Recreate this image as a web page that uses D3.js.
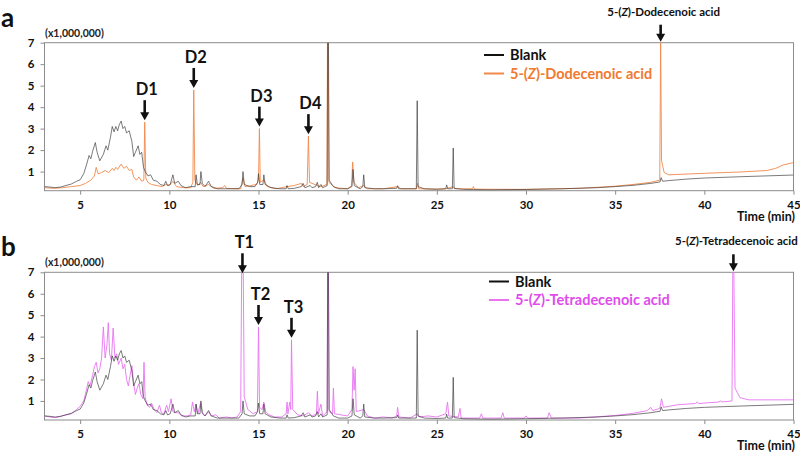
<!DOCTYPE html>
<html><head><meta charset="utf-8">
<script src="https://cdn.jsdelivr.net/npm/d3@7"></script>
<style>
body{margin:0;background:#fff;}
text{font-family:Lato,"Open Sans",sans-serif;font-weight:bold;}
</style></head>
<body><svg id="c" width="800" height="456"></svg>
<script>
// ---- data (time in min, intensity in x1,000,000) ----
const xTicks = [5,10,15,20,25,30,35,40,45];
const yTicks = [1,2,3,4,5,6,7];

const blank = [
[3.0,0.3],[3.3,0.28],[3.6,0.25],[3.9,0.28],[4.2,0.35],[4.5,0.42],[4.8,0.55],[5.0,0.62],[5.2,0.9],[5.35,1.3],[5.5,1.75],[5.6,1.6],[5.7,1.95],[5.85,2.35],[5.95,1.9],[6.1,1.5],[6.3,1.8],[6.45,2.2],[6.55,2.0],[6.7,2.6],[6.8,3.1],[6.9,2.85],[7.0,3.1],[7.1,2.9],[7.2,3.2],[7.3,3.35],[7.4,3.0],[7.5,3.1],[7.6,2.8],[7.75,2.9],[7.9,2.4],[8.0,1.7],[8.1,1.9],[8.25,2.2],[8.35,1.8],[8.45,1.9],[8.55,1.2],[8.65,1.0],[8.8,0.8],[8.95,0.85],[9.1,0.6],[9.3,0.55],[9.5,0.4],[9.7,0.35],[9.8,0.55],[9.9,0.35],[10.05,0.4],[10.2,0.85],[10.3,0.45],[10.5,0.55],[10.65,0.35],[10.9,0.25],[11.2,0.3],[11.45,0.3],[11.5,0.85],[11.57,0.4],[11.72,0.4],[11.77,1.0],[11.85,0.45],[12.0,0.3],[12.2,0.55],[12.35,0.3],[12.7,0.2],[13.0,0.2],[13.5,0.2],[13.9,0.2],[14.08,0.4],[14.13,1.0],[14.2,0.4],[14.5,0.3],[14.8,0.3],[14.95,0.5],[15.0,0.9],[15.07,0.4],[15.25,0.4],[15.3,0.85],[15.37,0.4],[15.7,0.25],[16.2,0.2],[16.55,0.2],[16.6,0.35],[16.67,0.2],[17.0,0.22],[17.4,0.3],[17.5,0.45],[17.6,0.25],[17.9,0.35],[18.0,0.25],[18.2,0.3],[18.3,0.5],[18.37,0.25],[18.5,0.4],[18.6,0.25],[18.85,0.35],[18.88,7.5],[18.92,7.5],[18.96,0.6],[19.2,0.3],[19.5,0.2],[20.0,0.2],[20.24,0.3],[20.3,1.1],[20.37,0.35],[20.7,0.2],[20.85,0.3],[20.9,0.85],[20.96,0.25],[21.5,0.2],[22.0,0.2],[22.75,0.22],[22.8,0.34],[22.86,0.2],[23.85,0.2],[23.9,4.3],[23.95,0.3],[24.3,0.2],[25.0,0.18],[25.5,0.2],[25.55,0.38],[25.61,0.2],[25.87,0.2],[25.92,2.1],[25.97,0.22],[26.5,0.17],[28.0,0.15],[30.0,0.17],[32.0,0.2],[34.0,0.25],[35.0,0.3],[36.0,0.36],[37.0,0.45],[37.52,0.52],[37.58,0.72],[37.66,0.55],[38.0,0.58],[39.0,0.65],[40.0,0.7],[42.0,0.76],[45.0,0.84]
];

const dodecenoic = [
[3.0,0.25],[3.5,0.22],[4.0,0.25],[4.5,0.3],[5.0,0.35],[5.3,0.45],[5.6,0.6],[5.8,0.8],[5.9,1.2],[6.0,0.9],[6.2,0.95],[6.4,1.05],[6.6,0.95],[6.8,1.15],[6.9,1.05],[7.0,1.2],[7.1,1.1],[7.3,1.35],[7.45,1.15],[7.6,1.25],[7.75,1.05],[7.9,1.1],[8.0,0.75],[8.15,0.6],[8.3,0.75],[8.45,0.55],[8.57,0.6],[8.62,3.3],[8.68,0.7],[8.8,0.5],[9.0,0.4],[9.3,0.35],[9.6,0.3],[9.8,0.4],[10.0,0.35],[10.2,0.55],[10.4,0.3],[10.8,0.25],[11.2,0.25],[11.32,0.5],[11.37,4.8],[11.43,0.6],[11.6,0.35],[11.75,0.5],[11.9,0.3],[12.2,0.4],[12.5,0.22],[13.0,0.25],[13.1,0.35],[13.2,0.22],[14.0,0.2],[14.13,0.7],[14.25,0.3],[14.9,0.4],[15.0,0.6],[15.05,3.0],[15.1,0.5],[15.3,0.6],[15.5,0.3],[16.0,0.2],[16.6,0.3],[17.0,0.35],[17.4,0.45],[17.5,0.3],[17.73,0.4],[17.8,2.65],[17.86,0.5],[18.3,0.35],[18.5,0.3],[18.84,0.4],[18.87,7.5],[18.91,7.5],[18.95,0.5],[19.3,0.25],[20.0,0.2],[20.22,0.35],[20.28,1.45],[20.35,0.5],[20.6,0.25],[20.9,0.35],[21.1,0.2],[22.0,0.2],[22.8,0.3],[23.0,0.2],[23.86,0.2],[23.92,0.45],[23.98,0.2],[25.0,0.18],[25.5,0.2],[25.92,0.3],[26.0,0.2],[27.0,0.2],[27.05,0.3],[27.12,0.18],[30.0,0.17],[33.0,0.22],[35.0,0.32],[36.0,0.4],[37.0,0.5],[37.5,0.6],[37.55,7.2],[37.6,1.5],[37.75,0.95],[38.0,0.85],[40.0,0.92],[42.0,0.98],[43.5,1.05],[44.0,1.15],[44.4,1.3],[45.0,1.42]
];

const tetradecenoic = [
[3.0,0.3],[3.3,0.25],[3.6,0.22],[3.9,0.28],[4.2,0.35],[4.5,0.4],[4.8,0.6],[5.0,0.75],[5.2,1.0],[5.35,1.5],[5.45,1.9],[5.55,1.7],[5.7,2.2],[5.8,2.6],[5.9,2.8],[6.0,2.3],[6.1,2.5],[6.2,3.0],[6.3,4.45],[6.4,3.0],[6.5,3.6],[6.58,4.65],[6.65,3.2],[6.75,2.9],[6.85,4.4],[6.95,3.0],[7.05,3.2],[7.15,2.7],[7.3,3.0],[7.4,2.5],[7.5,2.7],[7.6,2.0],[7.7,1.7],[7.8,2.2],[7.9,2.65],[8.0,1.8],[8.1,1.3],[8.2,1.6],[8.3,1.8],[8.4,1.3],[8.52,1.1],[8.58,2.8],[8.64,1.2],[8.75,0.8],[8.9,0.7],[9.0,0.9],[9.15,0.6],[9.3,0.45],[9.45,0.8],[9.55,0.45],[9.7,0.4],[9.85,0.8],[9.95,0.5],[10.1,1.1],[10.2,0.5],[10.35,0.45],[10.5,0.45],[10.7,0.3],[11.0,0.3],[11.2,0.35],[11.3,0.95],[11.4,0.5],[11.5,0.85],[11.6,0.4],[11.75,0.9],[11.85,0.4],[12.0,0.3],[12.2,0.5],[12.35,0.3],[12.6,0.35],[12.8,0.2],[13.2,0.25],[13.5,0.2],[13.8,0.25],[14.0,0.5],[14.06,7.5],[14.14,7.5],[14.2,1.2],[14.4,0.6],[14.7,0.4],[14.94,0.5],[15.0,4.45],[15.06,0.7],[15.2,0.6],[15.3,0.95],[15.4,0.5],[15.6,0.35],[15.9,0.25],[16.3,0.25],[16.55,0.4],[16.6,0.95],[16.65,0.4],[16.75,0.95],[16.81,0.6],[16.85,3.85],[16.92,0.6],[17.2,0.35],[17.5,0.3],[17.8,0.45],[18.0,0.3],[18.25,0.4],[18.3,1.45],[18.36,0.4],[18.5,0.85],[18.6,0.3],[18.85,0.5],[18.88,7.5],[18.92,7.5],[18.96,0.5],[19.15,0.4],[19.2,1.6],[19.26,0.4],[19.6,0.35],[20.0,0.3],[20.24,0.6],[20.3,2.6],[20.36,1.5],[20.42,2.5],[20.48,0.5],[20.9,0.6],[21.1,0.3],[21.5,0.2],[22.0,0.25],[22.5,0.2],[22.75,0.3],[22.8,0.7],[22.87,0.25],[23.5,0.2],[23.9,0.4],[24.0,0.25],[24.5,0.3],[25.0,0.25],[25.5,0.4],[25.6,0.95],[25.67,0.3],[26.2,0.25],[26.3,0.65],[26.36,0.2],[27.4,0.2],[27.5,0.4],[27.58,0.2],[28.6,0.2],[28.7,0.45],[28.78,0.2],[29.9,0.2],[30.0,0.3],[30.1,0.2],[31.2,0.2],[31.3,0.45],[31.42,0.2],[33.0,0.2],[35.0,0.32],[36.0,0.42],[36.8,0.55],[37.0,0.7],[37.1,0.55],[37.5,0.65],[37.6,1.1],[37.7,0.7],[38.5,0.82],[39.5,0.88],[39.6,0.95],[39.7,0.88],[40.8,0.95],[40.9,1.0],[41.0,0.95],[41.55,1.0],[41.6,7.5],[41.65,7.5],[41.72,1.6],[42.0,1.15],[42.5,1.05],[45.0,1.05]
];

const panelLetters = ["a","b"];
const sampleNames = ["5-(Z)-Dodecenoic acid","5-(Z)-Tetradecenoic acid"];
const peakLabelsA = [["D1",8.62,3.3],["D2",11.37,4.8],["D3",15.05,3.0],["D4",17.8,2.65]];
const peakLabelsB = [["T1",14.1,7.0],["T2",15.0,4.45],["T3",16.85,3.85]];

// ---- drawing ----
const svg = d3.select("#c");
const sampleColors = ["#F2894A","#E874F2"];
const sampleTextColors = ["#EF7A30","#E04CEC"];

function panel(idx, top, bottom, sample, peaks, ann){
  const x = d3.scaleLinear().domain([3,45]).range([44.5,793.5]);
  const y = d3.scaleLinear().domain([0.11,7]).range([bottom, top]);
  const g = svg.append("g");
  const cid = "clip"+idx;
  svg.append("clipPath").attr("id",cid).append("rect")
    .attr("x",44.5).attr("y",top).attr("width",749).attr("height",bottom-top);

  // frame
  g.append("rect").attr("x",44.5).attr("y",top).attr("width",749).attr("height",bottom-top)
    .attr("fill","none").attr("stroke","#8c8c8c").attr("stroke-width",1);

  const line = d3.line().x(d=>x(d[0])).y(d=>y(d[1]));
  const lg = g.append("g").attr("clip-path",`url(#${cid})`);
  lg.append("path").datum(sample).attr("d",line).attr("fill","none")
    .attr("stroke",sampleColors[idx]).attr("stroke-width",1).attr("stroke-opacity",0.9);
  lg.append("path").datum(blank).attr("d",line).attr("fill","none")
    .attr("stroke","#3a3a3a").attr("stroke-width",0.9).attr("stroke-opacity",0.75);

  // axes
  const xa = g.append("g").attr("transform",`translate(0,${bottom})`)
    .call(d3.axisBottom(x).tickValues(xTicks).tickFormat(d3.format("d")).tickSize(4).tickPadding(6));
  const ya = g.append("g").attr("transform",`translate(44.5,0)`)
    .call(d3.axisLeft(y).tickValues(yTicks).tickFormat(d3.format("d")).tickSize(4).tickPadding(6));
  [xa,ya].forEach(a=>{
    a.select(".domain").remove();
    a.selectAll(".tick line").attr("stroke","#8c8c8c");
    a.selectAll(".tick text").attr("font-size",11.5).attr("fill","#111")
      .attr("font-family","Lato,sans-serif").attr("font-weight","bold");
  });

  g.append("text").attr("x",795).attr("y",bottom+30).attr("text-anchor","end")
    .attr("font-size",12.5).attr("fill","#111").text("Time (min)");
  g.append("text").attr("x",45).attr("y",top-6).attr("font-size",10.5).attr("fill","#222").text("(x1,000,000)");
  g.append("text").attr("x",1).attr("y",top-16).attr("font-size",26).attr("fill","#111").text(panelLetters[idx]);

  // legend
  const lx = ann.legX, ly = ann.legY;
  const names = ["Blank", sampleNames[idx]];
  const cols = ["#111", sampleTextColors[idx]];
  const lcols = ["#111", sampleColors[idx]];
  names.forEach((n,i)=>{
    const yy = ly + i*18.5;
    g.append("line").attr("x1",lx).attr("x2",lx+20).attr("y1",yy).attr("y2",yy)
      .attr("stroke",lcols[i]).attr("stroke-width",2);
    const t = g.append("text").attr("x",lx+26).attr("y",yy+5).attr("font-size",14.5).attr("fill",cols[i]);
    richName(t,n);
  });

  // arrows
  function arrow(xp, y1, y2){
    g.append("line").attr("x1",xp).attr("x2",xp).attr("y1",y1).attr("y2",y2-6)
      .attr("stroke","#111").attr("stroke-width",2.6);
    g.append("path").attr("d",`M${xp-4.5},${y2-8}L${xp+4.5},${y2-8}L${xp},${y2}Z`).attr("fill","#111");
  }
  peaks.forEach(p=>{
    const xp = x(p[1]);
    const tipY = Math.max(y(p[2]) - 2, top+1);
    arrow(xp, tipY-20, tipY);
    g.append("text").attr("x",xp+2).attr("y",tipY-25).attr("text-anchor","middle")
      .attr("font-size",16.5).attr("fill","#111").text(p[0]);
  });
  // main compound annotation
  const ax = x(ann.t);
  arrow(ax, top-18, top-1);
  const at = g.append("text").attr("x",ax+3).attr("y",top-27).attr("text-anchor","middle")
    .attr("font-size",11.5).attr("fill","#111");
  richName(at, sampleNames[idx]);
}

function richName(t, n){
  const m = n.match(/^(.*\()(Z)(\).*)$/);
  if(!m){ t.text(n); return; }
  t.append("tspan").text(m[1]);
  t.append("tspan").attr("font-style","italic").text(m[2]);
  t.append("tspan").text(m[3]);
}

panel(0, 42.7, 190.7, dodecenoic, peakLabelsA, {t:37.55, legX:484, legY:55});
panel(1, 272.3, 420, tetradecenoic, peakLabelsB, {t:41.63, legX:489, legY:281.5});
</script></body></html>
